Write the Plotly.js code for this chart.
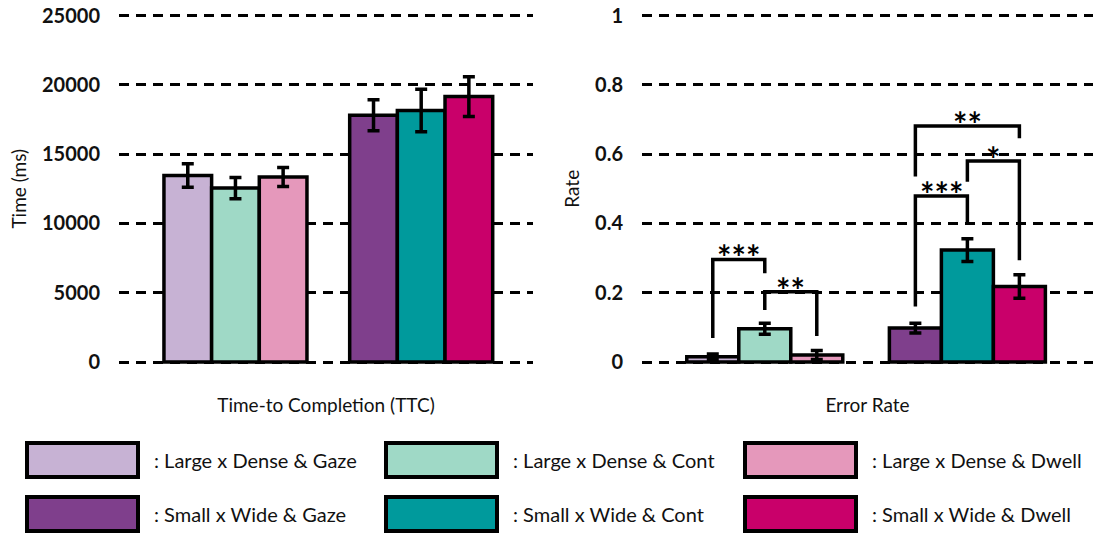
<!DOCTYPE html>
<html>
<head>
<meta charset="utf-8">
<script src="https://cdn.plot.ly/plotly-3.0.1.min.js"></script>
<style>
  html, body { margin: 0; padding: 0; background: #ffffff; }
  #chart { width: 1102px; height: 533px; }
</style>
</head>
<body>
<div id="chart"></div>
<script>
// Target size groups and selection modalities
const groups = ['Large x Dense', 'Small x Wide'];
const modalities = ['Gaze', 'Cont', 'Dwell'];

// Time-to-completion (ms), one value per group: [Large x Dense, Small x Wide]
const ttcGaze = [13450, 17800];
const ttcCont = [12550, 18150];
const ttcDwell = [13350, 19150];
const ttcGazeErr = [850, 1120];
const ttcContErr = [770, 1530];
const ttcDwellErr = [680, 1430];

// Error rate, one value per group
const errGaze = [0.015, 0.098];
const errCont = [0.096, 0.323];
const errDwell = [0.020, 0.218];
const errGazeErr = [0.008, 0.014];
const errContErr = [0.016, 0.033];
const errDwellErr = [0.013, 0.034];

// Fill colours per modality: [Large x Dense, Small x Wide]
const colors = {
  Gaze:  ['#C7B2D4', '#7F3F8C'],
  Cont:  ['#9FD9C6', '#009A9C'],
  Dwell: ['#E598BB', '#C9006A']
};

// Pairwise significance on the error rate (group index, bar a, bar b,
// bracket height, end of leg a, end of leg b, label)
const sigGroup = [0, 0, 1, 1, 1];
const sigFrom  = [0, 1, 0, 1, 0];
const sigTo    = [1, 2, 1, 2, 2];
const sigTop   = [0.296, 0.203, 0.479, 0.580, 0.681];
const sigEndA  = [0.069, 0.150, 0.160, 0.520, 0.535];
const sigEndB  = [0.256, 0.075, 0.400, 0.294, 0.646];
const sigLabel = ['***', '**', '***', '*', '**'];

const ttcValues = {Gaze: ttcGaze, Cont: ttcCont, Dwell: ttcDwell};
const ttcErrors = {Gaze: ttcGazeErr, Cont: ttcContErr, Dwell: ttcDwellErr};
const errValues = {Gaze: errGaze, Cont: errCont, Dwell: errDwell};
const errErrors = {Gaze: errGazeErr, Cont: errContErr, Dwell: errDwellErr};

const FONT = 'Lato, "Open Sans", sans-serif';
const bargap = 0.23;
const outline = {color: '#000000', width: 3.5};

function barTrace(m, values, errors, xa, ya) {
  return {
    type: 'bar',
    name: m,
    x: groups,
    y: values[m],
    xaxis: xa,
    yaxis: ya,
    marker: {color: colors[m], line: outline},
    error_y: {type: 'data', array: errors[m], visible: true,
              color: '#000000', thickness: 3.5, width: 6},
    showlegend: false,
    hoverinfo: 'skip'
  };
}

const traces = [];
modalities.forEach(m => traces.push(barTrace(m, ttcValues, ttcErrors, 'x', 'y')));
modalities.forEach(m => traces.push(barTrace(m, errValues, errErrors, 'x2', 'y2')));

// Bar centres on a category axis in grouped mode
const barW = (1 - bargap) / modalities.length;
const barCenter = (g, i) => g + (i - (modalities.length - 1) / 2) * barW;

const shapes = [];
const annotations = [];

sigGroup.forEach((g, k) => {
  const xa = barCenter(g, sigFrom[k]);
  const xb = barCenter(g, sigTo[k]);
  shapes.push({
    type: 'path', xref: 'x2', yref: 'y2',
    path: `M ${xa},${sigEndA[k]} L ${xa},${sigTop[k]} L ${xb},${sigTop[k]} L ${xb},${sigEndB[k]}`,
    line: {color: '#000000', width: 3.5}
  });
  annotations.push({
    xref: 'x2', yref: 'y2', x: (xa + xb) / 2, y: sigTop[k],
    text: sigLabel[k], showarrow: false, xanchor: 'center', yanchor: 'bottom',
    yshift: -20, font: {family: FONT, size: 34, color: '#000000', weight: 'bold'}
  });
});

// Legend: one row per group, one column per modality
const colX = [27, 386, 745];
const rowY = [443, 497];
const boxW = 111, boxH = 34;
groups.forEach((g, r) => {
  modalities.forEach((m, c) => {
    const x0 = colX[c] / 1102, x1 = (colX[c] + boxW) / 1102;
    const y1 = 1 - rowY[r] / 533, y0 = 1 - (rowY[r] + boxH) / 533;
    shapes.push({
      type: 'rect', xref: 'paper', yref: 'paper', x0, x1, y0, y1,
      fillcolor: colors[m][r], line: {color: '#000000', width: 4}
    });
    annotations.push({
      xref: 'paper', yref: 'paper', x: (colX[c] + boxW + 14) / 1102,
      y: (y0 + y1) / 2, xanchor: 'left', yanchor: 'middle', showarrow: false,
      text: ': ' + g + ' & ' + m,
      font: {family: FONT, size: 20, color: '#111111'}
    });
  });
});

const gridStyle = {
  showgrid: true, gridcolor: '#000000', gridwidth: 3, griddash: '10px,7px',
  zeroline: false, showline: false, ticks: '', ticklabelstandoff: 18,
  tickfont: {family: FONT, size: 20, color: '#111111', weight: 'bold'}
};

// Plot band: value 0 sits at y=362 px, the top tick at y=15.5 px;
// a small pad keeps the edge gridlines inside the range
const pad = 3;
const plotTop = 15.5, plotBottom = 362;
const pxSpan = plotBottom - plotTop;
const yDomain = [1 - (plotBottom + pad) / 533, 1 - (plotTop - pad) / 533];
const padRange = (lo, hi) => {
  const d = (hi - lo) * pad / pxSpan;
  return [lo - d, hi + d];
};

const layout = {
  width: 1102, height: 533,
  margin: {l: 0, r: 0, t: 0, b: 0},
  paper_bgcolor: '#ffffff', plot_bgcolor: 'rgba(0,0,0,0)',
  barmode: 'group', bargap: bargap, bargroupgap: 0,
  showlegend: false,
  font: {family: FONT, size: 19, color: '#111111'},
  xaxis: {
    domain: [119 / 1102, 533 / 1102], range: [-0.627, 1.602], anchor: 'y',
    showticklabels: false, showgrid: false, zeroline: false, ticks: '',
    title: {text: 'Time-to Completion (TTC)', standoff: 33, font: {family: FONT, size: 19, color: '#111111'}}
  },
  yaxis: Object.assign({}, gridStyle, {
    domain: yDomain, range: padRange(0, 25000), tick0: 0, dtick: 5000, tickformat: 'd', anchor: 'x',
    title: {text: 'Time (ms)', standoff: 10, font: {family: FONT, size: 19, color: '#111111'}}
  }),
  xaxis2: {
    domain: [642 / 1102, 1093 / 1102], range: [-0.606, 1.620], anchor: 'y2',
    showticklabels: false, showgrid: false, zeroline: false, ticks: '',
    title: {text: 'Error Rate', standoff: 33, font: {family: FONT, size: 19, color: '#111111'}}
  },
  yaxis2: Object.assign({}, gridStyle, {
    domain: yDomain, range: padRange(0, 1), tick0: 0, dtick: 0.2, anchor: 'x2',
    title: {text: 'Rate', standoff: 10, font: {family: FONT, size: 19, color: '#111111'}}
  }),
  shapes: shapes,
  annotations: annotations
};

Plotly.newPlot('chart', traces, layout, {displayModeBar: false, staticPlot: true});
</script>
</body>
</html>
